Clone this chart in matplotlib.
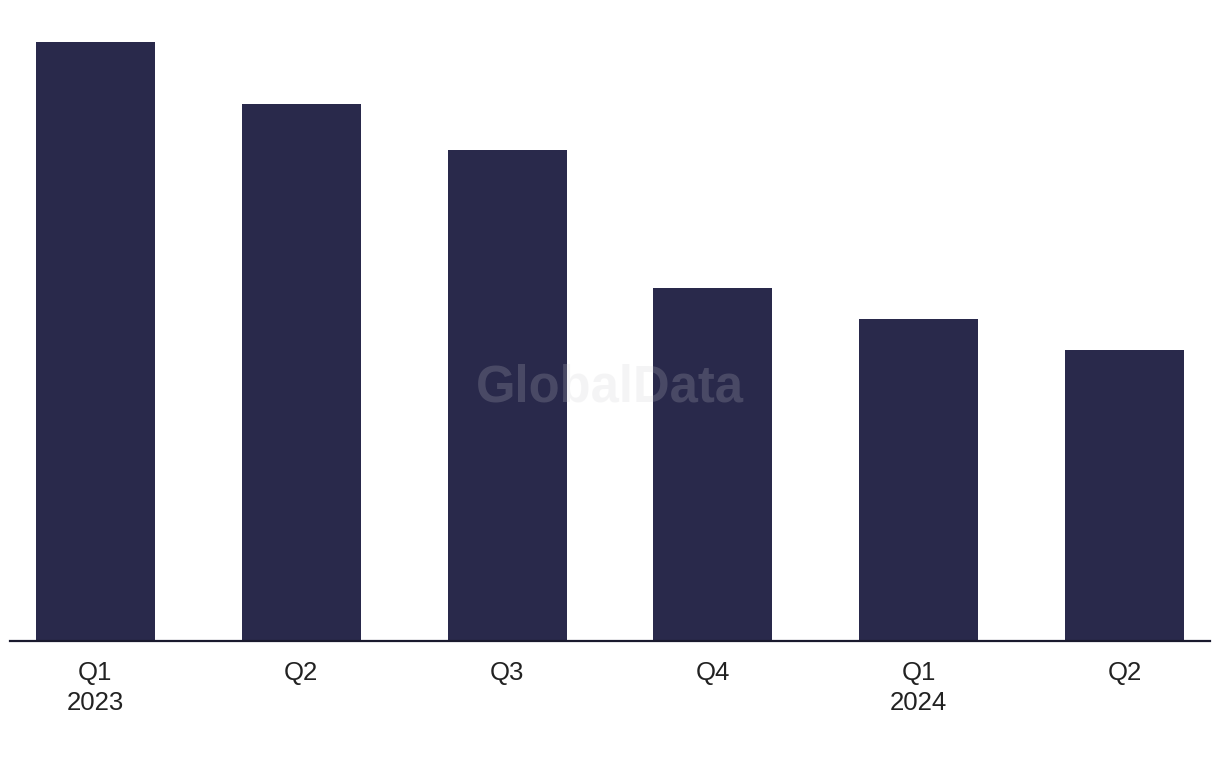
import matplotlib
matplotlib.use("Agg")
import matplotlib.pyplot as plt

categories = ["Q1\n2023", "Q2", "Q3", "Q4", "Q1\n2024", "Q2"]
values = [599, 537, 491, 353, 322, 291]

plt.rcParams['font.family'] = ['Liberation Sans', 'DejaVu Sans']

fig = plt.figure(figsize=(12.2, 7.68), dpi=100)
ax = fig.add_axes([10/1220, (768-641)/768, 1200/1220, (641-42)/768])

x = list(range(len(values)))
ax.bar(x, values, width=0.578, color="#29294b", zorder=2)
ax.set_xlim(-0.415, 5.415)
ax.set_ylim(0, 599)

for s in ["top", "right", "left"]:
    ax.spines[s].set_visible(False)
ax.spines["bottom"].set_color("#1a1a2e")
ax.spines["bottom"].set_linewidth(1.6)
ax.spines["bottom"].set_zorder(3)
ax.set_yticks([])
ax.set_xticks(x)
ax.set_xticklabels(categories, fontsize=18.5, color="#222222", linespacing=1.33)
ax.tick_params(axis="x", length=0, pad=14.5)

fig.text(610/1220, 1 - 388/768, "GlobalData", fontsize=36.5, fontweight="bold",
         color=(0.8, 0.8, 0.82), alpha=0.2, ha="center", va="center", zorder=10)

fig.savefig("out.png", dpi=100)
